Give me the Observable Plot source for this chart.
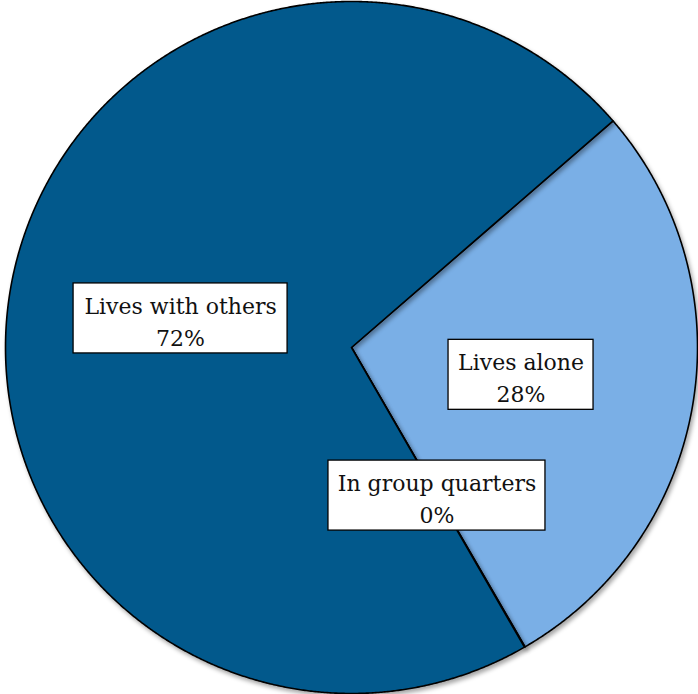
<!DOCTYPE html>
<html>
<head>
<meta charset="utf-8">
<script src="https://cdn.jsdelivr.net/npm/d3@7"></script>
<script src="https://cdn.jsdelivr.net/npm/@observablehq/plot@0.6"></script>
<style>
  html, body { margin: 0; padding: 0; background: #ffffff; }
  #chart svg { display: block; }
  #chart .pie path { filter: drop-shadow(2px 3px 2px rgba(0,0,0,0.35)); }
</style>
</head>
<body>
<div id="chart"></div>
<script>
// ---- data ----
const categories = ["Lives alone", "In group quarters", "Lives with others"];
const values = [28, 0.03, 71.97];            // percent
const colors = ["#7aafe6", "#7aafe6", "#02598c"];

// ---- layout constants (not data) ----
const W = 698, H = 694;
const cx = 351, cy = 347, R = 346;            // pixel centre & radius
const startDeg = 49.1;                         // first slice angle (clockwise from 12 o'clock)
// label box centres (in units of radius, y up) and box sizes in px
const labelPos = [
  {x: 0.49, y: -0.079, w: 145, h: 70},
  {x: 0.247, y: -0.428, w: 217, h: 70},
  {x: -0.494, y: 0.084, w: 214, h: 70}
];

const total = d3.sum(values);
const pie = d3.pie().sort(null).value(d => d)
  .startAngle(startDeg * Math.PI / 180)
  .endAngle(startDeg * Math.PI / 180 + 2 * Math.PI);
const arcs = pie(values);

// polygon points for each slice
const pts = [];
arcs.forEach((a, i) => {
  const cat = categories[i];
  pts.push({cat, x: 0, y: 0});
  const n = Math.max(2, Math.ceil((a.endAngle - a.startAngle) / (Math.PI / 720)));
  for (let k = 0; k <= n; k++) {
    const t = a.startAngle + (a.endAngle - a.startAngle) * k / n;
    pts.push({cat, x: Math.sin(t), y: Math.cos(t)});
  }
  pts.push({cat, x: 0, y: 0});
});

const labels = categories.map((c, i) => ({
  cat: c,
  text: c + "\n" + Math.round(values[i] / total * 100) + "%",
  x: labelPos[i].x, y: labelPos[i].y,
  x1: labelPos[i].x - labelPos[i].w / 2 / R,
  x2: labelPos[i].x + labelPos[i].w / 2 / R,
  y1: labelPos[i].y - labelPos[i].h / 2 / R,
  y2: labelPos[i].y + labelPos[i].h / 2 / R
}));

const chart = Plot.plot({
  width: W, height: H,
  margin: 0,
  x: {domain: [-cx / R, (W - cx) / R], range: [0, W], axis: null},
  y: {domain: [-(H - cy) / R, cy / R], range: [H, 0], axis: null},
  color: {domain: categories, range: colors},
  marks: [
    Plot.line(pts, {x: "x", y: "y", z: "cat", fill: "cat", stroke: "#000", strokeWidth: 1.6,
      strokeLinejoin: "round", className: "pie"}),
    Plot.rect(labels, {x1: "x1", x2: "x2", y1: "y1", y2: "y2", fill: "#fff", stroke: "#000", strokeWidth: 1.3}),
    Plot.text(labels, {x: "x", y: "y", text: "text", fontSize: 22, lineHeight: 1.45,
      fontFamily: "DejaVu Serif", fill: "#111", dy: 1})
  ]
});
document.getElementById("chart").appendChild(chart);
</script>
</body>
</html>
